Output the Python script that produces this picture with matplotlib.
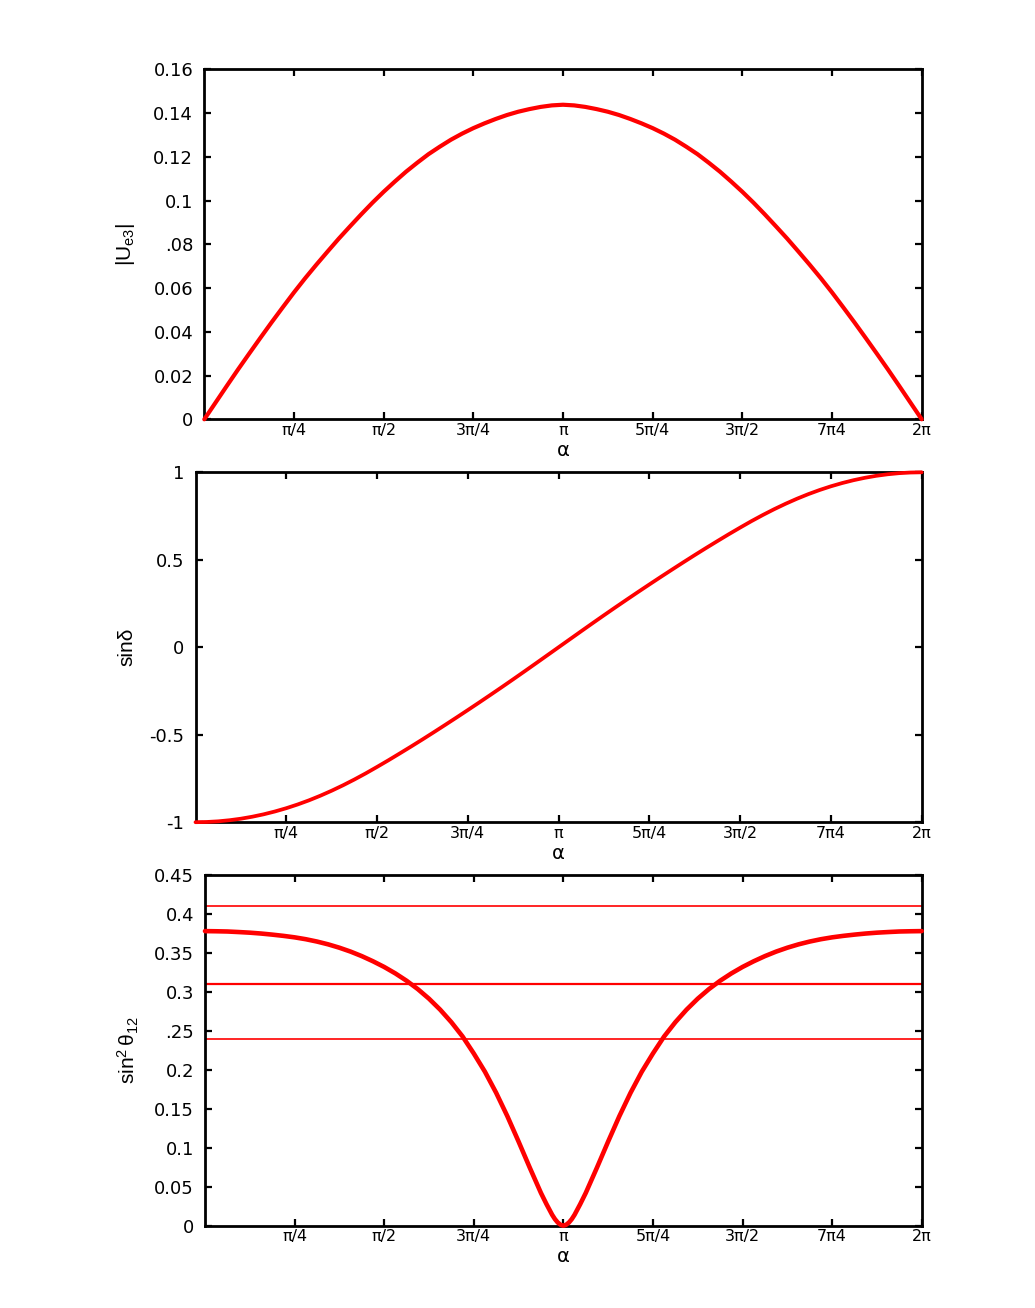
import numpy as np
import matplotlib
matplotlib.use("Agg")
import matplotlib.pyplot as plt
from matplotlib import font_manager

# ---------------- data ----------------
# sample positions along alpha, in units of pi/32
alpha_k = list(range(65))

ue3 = [0.0, 0.0076, 0.0152, 0.0227, 0.0300, 0.0372, 0.0443, 0.0512, 0.0580,
       0.0645, 0.0707, 0.0767, 0.0826, 0.0882, 0.0937, 0.0990, 0.1040,
       0.1087, 0.1132, 0.1173, 0.1212, 0.1246, 0.1278, 0.1306, 0.1331,
       0.1353, 0.1373, 0.1391, 0.1406, 0.1418, 0.1428, 0.1435, 0.1438,
       0.1435, 0.1428, 0.1418, 0.1406, 0.1391, 0.1373, 0.1353, 0.1331,
       0.1306, 0.1278, 0.1246, 0.1212, 0.1173, 0.1132, 0.1087, 0.1040,
       0.0990, 0.0937, 0.0882, 0.0826, 0.0767, 0.0707, 0.0645, 0.0580,
       0.0512, 0.0443, 0.0372, 0.0300, 0.0227, 0.0152, 0.0076, 0.0]

sin_delta = [-1.000, -0.9987, -0.995, -0.9887, -0.980, -0.9687, -0.955, -0.9387,
             -0.920, -0.8987, -0.875, -0.8487, -0.820, -0.7891, -0.756, -0.7210,
             -0.684, -0.6461, -0.607, -0.5674, -0.527, -0.4858, -0.444, -0.4018,
             -0.359, -0.3158, -0.272, -0.2278, -0.183, -0.1377, -0.092, -0.046,
             0.000,
             0.046, 0.092, 0.1377, 0.183, 0.2278, 0.272, 0.3158, 0.359,
             0.4018, 0.444, 0.4858, 0.527, 0.5674, 0.607, 0.6461, 0.684,
             0.7210, 0.756, 0.7891, 0.820, 0.8487, 0.875, 0.8987, 0.920,
             0.9387, 0.955, 0.9687, 0.980, 0.9887, 0.995, 0.9987, 1.000]

# bottom panel samples (units of pi/32), denser near the minimum
alpha_k_bot = [0, 1, 2, 3, 4, 5, 6, 7, 8, 9, 10, 11, 12, 13, 14, 15, 16, 17,
               18, 19, 20, 21, 22, 23, 24, 25, 26, 27, 28, 29, 30, 30.5, 31,
               31.25, 31.5, 31.75, 32, 32.25, 32.5, 32.75, 33, 33.5, 34, 35,
               36, 37, 38, 39, 40, 41, 42, 43, 44, 45, 46, 47, 48, 49, 50, 51,
               52, 53, 54, 55, 56, 57, 58, 59, 60, 61, 62, 63, 64]
sin2_theta12 = [0.378, 0.3778, 0.3775, 0.3768, 0.376, 0.3749, 0.3735, 0.3719,
                0.370, 0.3676, 0.3646, 0.3610, 0.3567, 0.3517, 0.3459, 0.3393,
                0.332, 0.3237, 0.3143, 0.3036, 0.2913, 0.2772, 0.2611, 0.2428,
                0.221, 0.1975, 0.1705, 0.1405, 0.108, 0.0745, 0.042, 0.0275,
                0.0140, 0.0084, 0.0041, 0.0012, 0.0,
                0.0012, 0.0041, 0.0084, 0.0140, 0.0275, 0.042, 0.0745, 0.108,
                0.1405, 0.1705, 0.1975, 0.221, 0.2428, 0.2611, 0.2772, 0.2913,
                0.3036, 0.3143, 0.3237, 0.332, 0.3393, 0.3459, 0.3517, 0.3567,
                0.3610, 0.3646, 0.3676, 0.370, 0.3719, 0.3735, 0.3749, 0.376,
                0.3768, 0.3775, 0.3778, 0.378]
ref_levels = [0.41, 0.31, 0.24]

xtick_labels = ['π/4', 'π/2', '3π/4', 'π', '5π/4', '3π/2', '7π4', '2π']
ytick_top = ['0', '0.02', '0.04', '0.06', '.08', '0.1', '0.12', '0.14', '0.16']
ytick_mid = ['-1', '-0.5', '0', '0.5', '1']
ytick_bot = ['0', '0.05', '0.1', '0.15', '0.2', '.25', '0.3', '0.35', '0.4', '0.45']

# ---------------- fonts ----------------
names = {f.name for f in font_manager.fontManager.ttflist}
label_family = 'Liberation Sans Narrow' if 'Liberation Sans Narrow' in names else 'Liberation Sans'
plt.rcParams['font.family'] = ['DejaVu Sans']
plt.rcParams['mathtext.fontset'] = 'custom'
plt.rcParams['mathtext.rm'] = label_family
plt.rcParams['mathtext.it'] = label_family + ':italic'
plt.rcParams['mathtext.bf'] = label_family + ':bold'

RED = '#ff0000'
W, H = 1035, 1308
fig = plt.figure(figsize=(W / 100, H / 100), dpi=100)


def px_axes(left, right, top, bottom):
    return fig.add_axes([left / W, 1 - bottom / H, (right - left) / W, (bottom - top) / H])


def style(ax, yticks, ylabels, ylim, ylabel, label_x):
    ax.set_xlim(0, 2 * np.pi)
    ax.set_ylim(*ylim)
    ax.set_xticks([k * np.pi / 4 for k in range(1, 9)])
    ax.set_xticklabels(xtick_labels)
    ax.set_yticks(yticks)
    ax.set_yticklabels(ylabels)
    for s in ax.spines.values():
        s.set_linewidth(2.0)
    ax.tick_params(axis='both', direction='in', top=True, right=True,
                   length=5, width=1.6)
    ax.tick_params(axis='x', labelsize=11.5, pad=2.5)
    ax.tick_params(axis='y', labelsize=13, pad=8)
    ax.set_ylabel(ylabel, fontsize=15, family=label_family)
    ax.yaxis.set_label_coords(label_x, 0.5)
    ax.yaxis.label.set_verticalalignment('center')
    ax.set_xlabel('α', fontsize=14)
    ax.xaxis.set_label_coords(0.5, -0.061)


def x_of(ks):
    return np.array(ks, dtype=float) * np.pi / 32


line_kw = dict(color=RED, zorder=3, clip_on=False,
               solid_capstyle='round', solid_joinstyle='round')

# top panel
ax1 = px_axes(204.3, 921.7, 69.3, 419.3)
ax1.plot(x_of(alpha_k), ue3, lw=3.0, **line_kw)
style(ax1, [0.02 * k for k in range(9)], ytick_top, (0, 0.16),
      r'$|\mathrm{U}_{\mathrm{e3}}|$', -0.110)

# middle panel
ax2 = px_axes(195.5, 921.7, 472.3, 822.2)
ax2.plot(x_of(alpha_k), sin_delta, lw=2.7, **line_kw)
style(ax2, [-1, -0.5, 0, 0.5, 1], ytick_mid, (-1, 1), 'sinδ', -0.095)

# bottom panel
ax3 = px_axes(205.0, 921.7, 875.0, 1225.7)
ref_widths = [1.2, 1.6, 1.2]
for lev, lw in zip(ref_levels, ref_widths):
    ax3.axhline(lev, color=RED, lw=lw, zorder=2)
ax3.plot(x_of(alpha_k_bot), sin2_theta12, lw=3.3, **line_kw)
style(ax3, [0.05 * k for k in range(10)], ytick_bot, (0, 0.45),
      r'$\mathrm{sin}^{2}\,\mathrm{θ}_{12}$', -0.107)

fig.savefig('out.png', dpi=100)
